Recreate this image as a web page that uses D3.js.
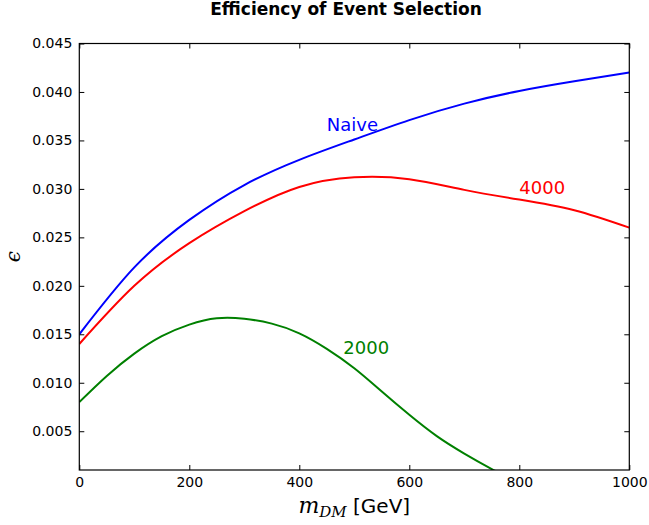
<!DOCTYPE html>
<html>
<head>
<meta charset="utf-8">
<script src="https://cdn.jsdelivr.net/npm/d3@7/dist/d3.min.js"></script>
<style>
  html, body { margin: 0; padding: 0; background: #fff; }
  svg { display: block; }
  text { font-family: "DejaVu Sans", sans-serif; }
</style>
</head>
<body>
<svg id="chart" width="649" height="525"></svg>
<script>
// Dark-matter mass grids (GeV)
const massGeV  = [0, 100, 200, 300, 400, 500, 600, 700, 800, 900, 1000];
const massFine = [0, 50, 100, 150, 200, 250, 300, 350, 400, 450, 500, 550, 600, 650, 700, 750, 800];

// Selection efficiency per scenario
const effNaive = [0.0150, 0.0219, 0.0268, 0.0304, 0.0330, 0.0351, 0.0371, 0.0388, 0.0401, 0.0411, 0.0420];
const eff4000  = [0.0140, 0.0200, 0.0244, 0.0277, 0.0302, 0.0312, 0.0310, 0.0299, 0.0289, 0.0278, 0.0260];
const eff2000  = [0.0080, 0.0107, 0.0130, 0.0148, 0.0160, 0.01665, 0.0166, 0.0161, 0.0151, 0.0135, 0.0115,
                  0.0091, 0.0067, 0.0045, 0.0027, 0.0011, -0.0004];

const xTicks = [0, 200, 400, 600, 800, 1000];
const yTicks = [0.005, 0.010, 0.015, 0.020, 0.025, 0.030, 0.035, 0.040, 0.045];

const seriesNames = ["Naive", "4000", "2000"];
const seriesColors = ["#0000ff", "#ff0000", "#008000"];
const seriesMass = [massGeV, massGeV, massFine];
const seriesValues = [effNaive, eff4000, eff2000];
// in-plot labels: [mass, efficiency]
const labelAt = [[450, 0.036], [800, 0.0295], [480, 0.013]];

const svg = d3.select("#chart");
const margin = { left: 79.3, right: 649 - 629.3, top: 43.5, bottom: 525 - 470 };
const W = 649, H = 525;

const x = d3.scaleLinear().domain([0, 1000]).range([margin.left, W - margin.right]);
const y = d3.scaleLinear().domain([0.001, 0.045]).range([H - margin.bottom, margin.top]);

svg.append("defs").append("clipPath").attr("id", "plotClip")
  .append("rect")
  .attr("x", x(0)).attr("y", y(0.045))
  .attr("width", x(1000) - x(0)).attr("height", y(0.001) - y(0.045));

// Curves
const line = d3.line()
  .x(d => x(d[0]))
  .y(d => y(d[1]))
  .curve(d3.curveNatural);

const plot = svg.append("g").attr("clip-path", "url(#plotClip)");
seriesValues.forEach((vals, i) => {
  const pts = vals.map((v, j) => [seriesMass[i][j], v]);
  plot.append("path")
    .attr("d", line(pts))
    .attr("fill", "none")
    .attr("stroke", seriesColors[i])
    .attr("stroke-width", 2);
});

// Axes with inward ticks on all four sides
const tickLen = 5;
const axB = d3.axisBottom(x).tickValues(xTicks).tickSizeInner(-tickLen).tickSizeOuter(0)
  .tickPadding(7).tickFormat(d3.format("d"));
const axT = d3.axisTop(x).tickValues(xTicks).tickSizeInner(-tickLen).tickSizeOuter(0).tickFormat("");
const axL = d3.axisLeft(y).tickValues(yTicks).tickSizeInner(-tickLen).tickSizeOuter(0)
  .tickPadding(7).tickFormat(d3.format(".3f"));
const axR = d3.axisRight(y).tickValues(yTicks).tickSizeInner(-tickLen).tickSizeOuter(0).tickFormat("");

function styleAxis(g) {
  g.select(".domain").remove();
  g.selectAll(".tick line").attr("stroke", "#000").attr("stroke-width", 1);
  g.selectAll(".tick text").attr("fill", "#000")
    .style("font-family", "'DejaVu Sans', sans-serif").style("font-size", "14px");
}
svg.append("g").attr("transform", `translate(0,${y(0.001)})`).call(axB).call(styleAxis);
svg.append("g").attr("transform", `translate(0,${y(0.045)})`).call(axT).call(styleAxis);
svg.append("g").attr("transform", `translate(${x(0)},0)`).call(axL).call(styleAxis);
svg.append("g").attr("transform", `translate(${x(1000)},0)`).call(axR).call(styleAxis);

// Frame
svg.append("rect")
  .attr("x", x(0)).attr("y", y(0.045))
  .attr("width", x(1000) - x(0)).attr("height", y(0.001) - y(0.045))
  .attr("fill", "none").attr("stroke", "#000").attr("stroke-width", 1.2);

// Series labels
seriesNames.forEach((name, i) => {
  svg.append("text")
    .attr("x", x(labelAt[i][0])).attr("y", y(labelAt[i][1]))
    .attr("fill", seriesColors[i])
    .style("font-size", "18px")
    .text(name);
});

// Title
svg.append("text")
  .attr("x", 346).attr("y", 15)
  .attr("text-anchor", "middle")
  .style("font-size", "17px").style("font-weight", "bold")
  .text("Efficiency of Event Selection");

// X axis label: m_DM [GeV]
const xl = svg.append("text")
  .attr("x", (x(0) + x(1000)) / 2).attr("y", 513)
  .attr("text-anchor", "middle")
  .style("font-size", "20px");
xl.append("tspan").style("font-family", "'DejaVu Serif', serif").style("font-style", "italic")
  .style("font-size", "22px").text("m");
xl.append("tspan").attr("dy", 4).style("font-family", "'DejaVu Serif', serif").style("font-style", "italic")
  .style("font-size", "15px").text("DM");
xl.append("tspan").attr("dy", -4).text(" [GeV]");

// Y axis label: epsilon
svg.append("text")
  .attr("transform", `translate(20,${(y(0.001) + y(0.045)) / 2}) rotate(-90)`)
  .attr("text-anchor", "middle")
  .style("font-family", "'DejaVu Serif', serif").style("font-style", "italic")
  .style("font-size", "20px")
  .text("\u03F5");
</script>
</body>
</html>
